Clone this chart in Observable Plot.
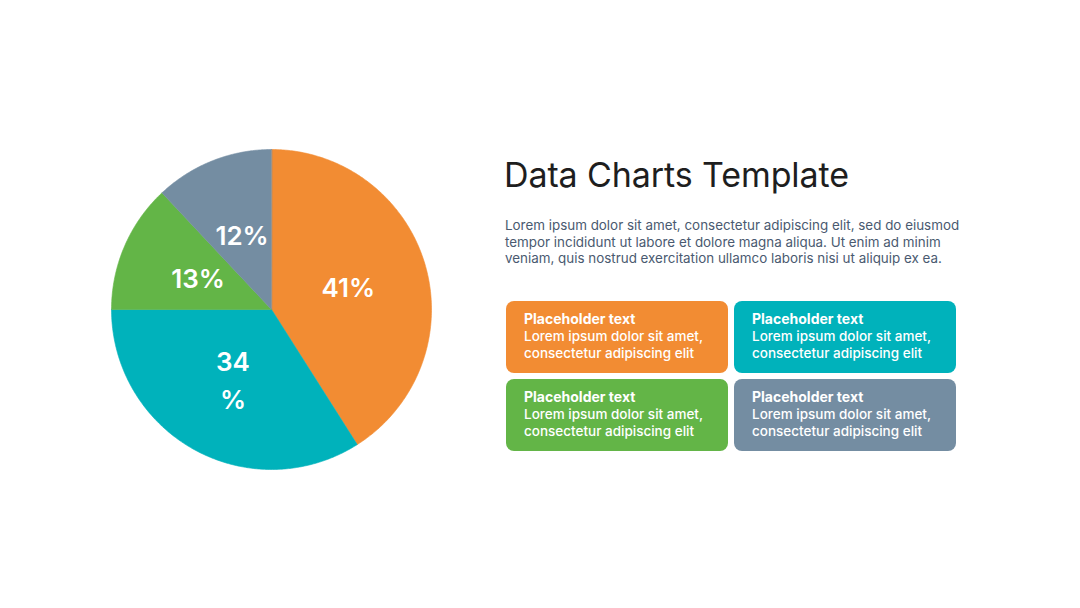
<!DOCTYPE html>
<html>
<head>
<meta charset="utf-8">
<script src="https://cdn.jsdelivr.net/npm/d3@7"></script>
<script src="https://cdn.jsdelivr.net/npm/@observablehq/plot@0.6"></script>
<style>
  html, body { margin: 0; padding: 0; background: #ffffff; }
  body { width: 1080px; height: 608px; position: relative; overflow: hidden; font-family: Inter, "Noto Sans", sans-serif; }
  #chart { position: absolute; left: 101px; top: 139px; }
  #title { position: absolute; left: 504px; top: 154px; font-size: 34px; font-weight: 400; color: #1e1e1e; white-space: nowrap; letter-spacing: -0.1px; }
  #desc { position: absolute; left: 505px; top: 217px; width: 470px; font-size: 13.4px; line-height: 16.5px; color: #4a5a70; }
  #legend { position: absolute; left: 506px; top: 301px; display: grid; grid-template-columns: 222px 222px; grid-auto-rows: 72px; gap: 6px; }
  .box { border-radius: 8px; color: #ffffff; padding: 9px 0 0 18px; box-sizing: border-box; font-size: 13.5px; line-height: 17.5px; font-weight: 500; }
  .box b { font-weight: 700; font-size: 14px; display: block; }
</style>
</head>
<body>
<div id="chart"></div>
<div id="title"></div>
<div id="desc"></div>
<div id="legend"></div>
<script>
// ---- data ----
const categories = ["Orange", "Teal", "Green", "Slate"];
const values = [41, 34, 13, 12];
const sliceLabels = ["41%", "34\n%", "13%", "12%"];
const colors = ["#F28C33", "#00B2BB", "#63B547", "#748DA2"];
const titleText = "Data Charts Template";
const descText = "Lorem ipsum dolor sit amet, consectetur adipiscing elit, sed do eiusmod tempor incididunt ut labore et dolore magna aliqua. Ut enim ad minim veniam, quis nostrud exercitation ullamco laboris nisi ut aliquip ex ea.";
const legendTitles = ["Placeholder text", "Placeholder text", "Placeholder text", "Placeholder text"];
const legendBodies = ["Lorem ipsum dolor sit amet, consectetur adipiscing elit", "Lorem ipsum dolor sit amet, consectetur adipiscing elit", "Lorem ipsum dolor sit amet, consectetur adipiscing elit", "Lorem ipsum dolor sit amet, consectetur adipiscing elit"];

// ---- build pie geometry from values ----
const arcs = d3.pie().sort(null).value(d => d)(values);
const slicePoints = [];
const labelData = [];
arcs.forEach((a, i) => {
  const name = categories[i];
  slicePoints.push({name, x: 0, y: 0});
  const steps = Math.max(8, Math.ceil((a.endAngle - a.startAngle) / 0.01));
  for (let k = 0; k <= steps; k++) {
    const t = a.startAngle + (a.endAngle - a.startAngle) * k / steps;
    slicePoints.push({name, x: Math.sin(t), y: Math.cos(t)});
  }
  const mid = (a.startAngle + a.endAngle) / 2;
  labelData.push({name, x: 0.5 * Math.sin(mid), y: 0.5 * Math.cos(mid), text: sliceLabels[i]});
});

const chart = Plot.plot({
  width: 340,
  height: 340,
  margin: 10,
  x: {domain: [-1, 1], axis: null},
  y: {domain: [-1, 1], axis: null},
  color: {domain: categories, range: colors},
  style: {background: "transparent", fontFamily: "Inter, sans-serif"},
  marks: [
    Plot.line(slicePoints, {x: "x", y: "y", z: "name", fill: "name", stroke: "name", strokeWidth: 0.6, curve: "linear-closed"}),
    Plot.text(labelData, {x: "x", y: "y", text: "text", fill: "white", fontSize: 26, fontWeight: 600, lineHeight: 1.46, dy: -2})
  ]
});
document.getElementById("chart").appendChild(chart);

document.getElementById("title").textContent = titleText;
document.getElementById("desc").textContent = descText;
const legend = document.getElementById("legend");
categories.forEach((c, i) => {
  const div = document.createElement("div");
  div.className = "box";
  div.style.background = colors[i];
  const b = document.createElement("b");
  b.textContent = legendTitles[i];
  div.appendChild(b);
  div.appendChild(document.createTextNode(legendBodies[i]));
  legend.appendChild(div);
});
</script>
</body>
</html>
